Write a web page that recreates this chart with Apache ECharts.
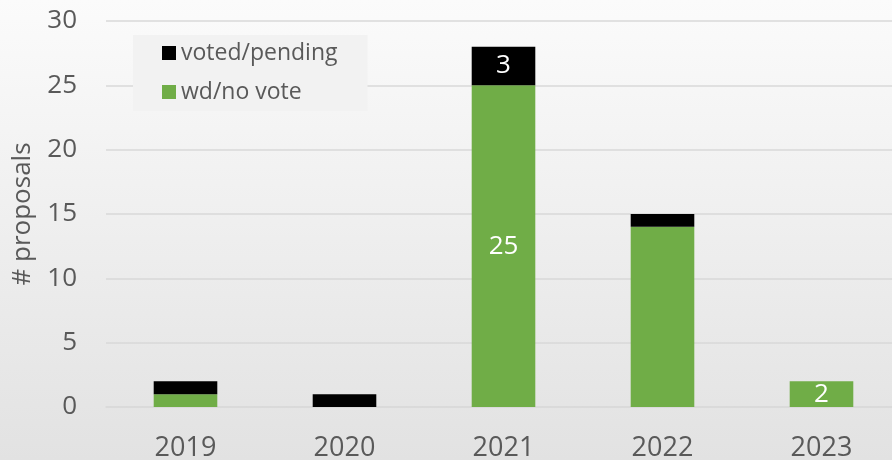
<!DOCTYPE html>
<html>
<head>
<meta charset="utf-8">
<script src="https://cdn.jsdelivr.net/npm/echarts@6/dist/echarts.min.js"></script>
<style>
  html, body { margin: 0; padding: 0; }
  #chart { width: 892px; height: 460px; }
</style>
</head>
<body>
<div id="chart"></div>
<script>
// Proposals per year, split by outcome
const years = ['2019', '2020', '2021', '2022', '2023'];
const wdNoVote = [1, 0, 25, 14, 2];
const votedPending = [1, 1, 3, 1, 0];
const yTicks = [0, 5, 10, 15, 20, 25, 30];

// Which bars carry a value label
const wdLabelIdx = [2, 4];
const votedLabelIdx = [2];

const FONT = '"Open Sans", "Noto Sans", sans-serif';
const TEXT = '#595959';

function withLabels(values, idxList) {
  return values.map((v, i) => ({
    value: v,
    label: { show: idxList.includes(i) }
  }));
}

const chart = echarts.init(document.getElementById('chart'), null, { renderer: 'canvas' });
chart.setOption({
  animation: false,
  backgroundColor: {
    type: 'linear', x: 0, y: 0, x2: 0, y2: 1,
    colorStops: [
      { offset: 0, color: '#fbfbfb' },
      { offset: 1, color: '#e2e2e2' }
    ]
  },
  textStyle: { fontFamily: FONT },
  // plot area runs slightly past the right edge of the canvas
  grid: {
    left: 106, top: 21, width: 795, height: 386,
    containLabel: false,
    outerBoundsMode: 'none'
  },
  legend: {
    orient: 'vertical',
    left: 133,
    top: 35,
    data: ['voted/pending', 'wd/no vote'],
    backgroundColor: '#f2f2f2',
    padding: [5, 30, 6, 29],
    itemGap: 13,
    itemWidth: 14,
    itemHeight: 14,
    icon: 'rect',
    textStyle: { fontSize: 23, color: TEXT, fontFamily: FONT, lineHeight: 26 }
  },
  xAxis: {
    type: 'category',
    data: years,
    axisLine: { show: true, lineStyle: { color: '#d9d9d9', width: 1.5 } },
    axisTick: { show: false },
    axisLabel: { fontSize: 27, color: TEXT, margin: 28, fontFamily: FONT }
  },
  yAxis: {
    type: 'value',
    min: yTicks[0],
    max: yTicks[yTicks.length - 1],
    interval: yTicks[1] - yTicks[0],
    name: '# proposals',
    nameLocation: 'middle',
    nameGap: 70,
    nameTextStyle: { fontSize: 26, color: TEXT, fontFamily: FONT },
    axisLine: { show: false },
    axisTick: { show: false },
    splitLine: { lineStyle: { color: '#d9d9d9', width: 1.5 } },
    axisLabel: { fontSize: 26, color: TEXT, margin: 29, fontFamily: FONT }
  },
  series: [
    {
      name: 'wd/no vote',
      type: 'bar',
      stack: 'total',
      barCategoryGap: '60%',
      itemStyle: { color: '#70ad47' },
      label: { position: 'inside', color: '#ffffff', fontSize: 26, fontFamily: FONT },
      data: withLabels(wdNoVote, wdLabelIdx)
    },
    {
      name: 'voted/pending',
      type: 'bar',
      stack: 'total',
      barCategoryGap: '60%',
      itemStyle: { color: '#000000' },
      label: { position: 'inside', color: '#ffffff', fontSize: 26, fontFamily: FONT },
      data: withLabels(votedPending, votedLabelIdx)
    }
  ]
});
</script>
</body>
</html>
